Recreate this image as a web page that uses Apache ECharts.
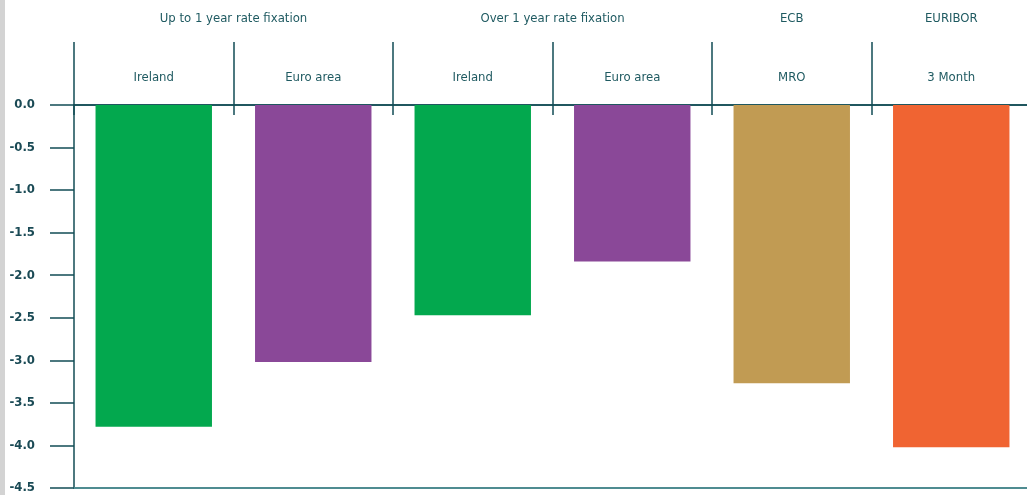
<!DOCTYPE html>
<html>
<head>
<meta charset="utf-8">
<title>Interest rate changes</title>
<script src="https://cdn.jsdelivr.net/npm/echarts@6/dist/echarts.min.js"></script>
<style>
  html, body { margin: 0; padding: 0; background: #ffffff; }
  #chart { width: 1027px; height: 495px; }
</style>
</head>
<body>
<div id="chart"></div>
<script>
// Bar categories (second header row) and their values, in percentage points
const categories = ['Ireland', 'Euro area', 'Ireland', 'Euro area', 'MRO', '3 Month'];
const values = [-3.78, -3.02, -2.47, -1.84, -3.27, -4.02];
const barColors = ['#03a84e', '#8a4898', '#03a84e', '#8a4898', '#c19b53', '#f06432'];

// Group headers (top row) and how many categories each one spans
const groups = ['Up to 1 year rate fixation', 'Over 1 year rate fixation', 'ECB', 'EURIBOR'];
const groupSpans = [2, 2, 1, 1];

// Value axis range and step
const yMin = -4.5;
const yMax = 0;
const yStep = 0.5;

// Centre of each group, in category units along a 0..n value axis
const groupCenters = {};
let start = 0;
groups.forEach(function (g, i) {
  groupCenters[(start + groupSpans[i] / 2).toFixed(2)] = g;
  start += groupSpans[i];
});

const font = "'Liberation Sans Narrow', 'DejaVu Sans Condensed', 'Arial Narrow', sans-serif";
const textColor = '#1f5a61';
const lineColor = '#124c55';

const chart = echarts.init(document.getElementById('chart'), null, { renderer: 'canvas' });

chart.setOption({
  animation: false,
  backgroundColor: '#ffffff',
  graphic: [{
    type: 'rect',
    left: 0, top: 0,
    shape: { width: 5, height: 495 },
    style: { fill: '#d3d3d3' },
    silent: true
  }],
  grid: { left: 74, width: 957, top: 105, bottom: 7, containLabel: false, outerBoundsMode: 'none' },
  xAxis: [
    {
      // baseline at the bottom of the plot
      type: 'category',
      data: categories,
      position: 'bottom',
      axisLine: { onZero: false, lineStyle: { color: '#4f8c91', width: 2 } },
      axisTick: { show: false },
      axisLabel: { show: false },
      splitLine: { show: false }
    },
    {
      // zero line with tall category dividers and second-row labels
      type: 'category',
      data: categories,
      position: 'top',
      axisLine: { show: true, onZero: false, lineStyle: { color: lineColor, width: 1.5 } },
      axisTick: { show: true, interval: 0, length: 63, lineStyle: { color: lineColor, width: 1.5 } },
      axisLabel: { interval: 0, margin: 21, color: textColor, fontSize: 13, fontFamily: font },
      splitLine: { show: false }
    },
    {
      // short divider stubs below the zero line
      type: 'category',
      data: categories,
      position: 'bottom',
      axisLine: { show: true, onZero: true, lineStyle: { color: lineColor, width: 1.5 } },
      axisTick: { show: true, interval: 0, length: 10, lineStyle: { color: lineColor, width: 1.5 } },
      axisLabel: { show: false },
      splitLine: { show: false }
    },
    {
      // group headers centred over the categories they cover
      type: 'value',
      position: 'top',
      min: 0,
      max: categories.length,
      interval: 0.5,
      axisLine: { show: false, onZero: false },
      axisTick: { show: false },
      splitLine: { show: false },
      axisLabel: {
        margin: 80,
        color: textColor,
        fontSize: 13,
        fontFamily: font,
        showMinLabel: true,
        showMaxLabel: true,
        formatter: function (v) { return groupCenters[v.toFixed(2)] || ''; }
      }
    }
  ],
  yAxis: {
    type: 'value',
    min: yMin,
    max: yMax,
    interval: yStep,
    axisLine: { show: true, lineStyle: { color: lineColor, width: 1.5 } },
    axisTick: { show: true, length: 24, lineStyle: { color: lineColor, width: 1.5 } },
    axisLabel: {
      margin: 39,
      color: '#1a4a55',
      fontSize: 13,
      fontWeight: 'bold',
      fontFamily: font,
      formatter: function (v) { return (Math.abs(v) < 1e-9 ? 0 : v).toFixed(1); }
    },
    splitLine: { show: false }
  },
  series: [{
    type: 'bar',
    xAxisIndex: 0,
    barWidth: '73%',
    data: values.map(function (v, i) {
      return { value: v, itemStyle: { color: barColors[i] } };
    })
  }]
});
</script>
</body>
</html>
